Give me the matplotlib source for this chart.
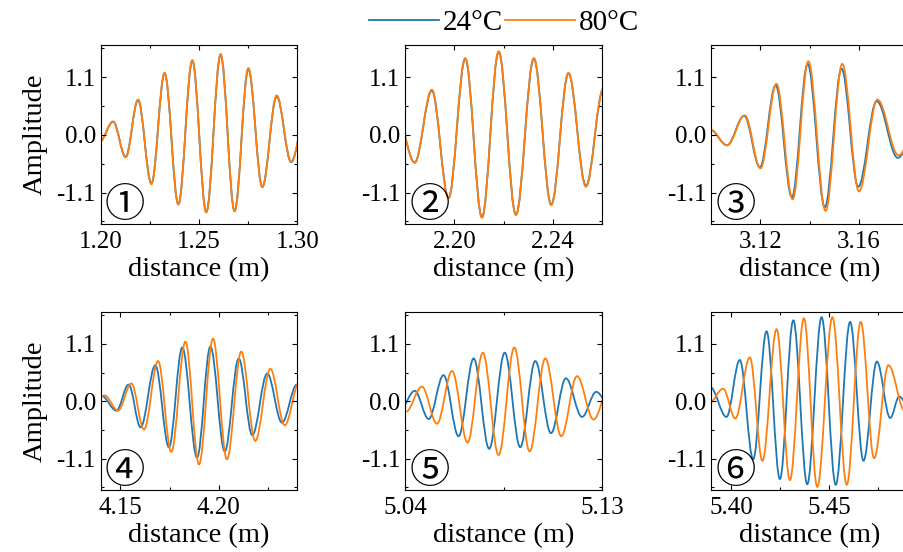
import matplotlib
matplotlib.use("Agg")
import matplotlib.pyplot as plt
from matplotlib.path import Path
from matplotlib.patches import PathPatch
from matplotlib.lines import Line2D
from matplotlib.ticker import MultipleLocator, FormatStrFormatter

plt.rcParams["font.family"] = ["Liberation Serif", "DejaVu Serif"]
plt.rcParams["mathtext.fontset"] = "stix"

# Wave extrema (distance in m, amplitude), per panel.
P1_X = [1.1995, 1.2063, 1.2127, 1.2190, 1.2258, 1.2325, 1.2395, 1.2466,
        1.2537, 1.2610, 1.2681, 1.2751, 1.2822, 1.2895, 1.2969, 1.3040]
P1_Y24 = [-0.13, 0.25, -0.42, 0.66, -0.93, 1.17, -1.32, 1.41,
          -1.47, 1.52, -1.45, 1.25, -0.99, 0.73, -0.52, 0.33]
P1_Y80 = [-0.13, 0.25, -0.43, 0.67, -0.94, 1.18, -1.33, 1.42,
          -1.48, 1.54, -1.46, 1.27, -1.00, 0.75, -0.51, 0.35]

P2_X = [2.1770, 2.1838, 2.1908, 2.1976, 2.2044, 2.2112, 2.2180,
        2.2250, 2.2323, 2.2394, 2.2464, 2.2535, 2.2606]
P2_Y24 = [0.30, -0.53, 0.84, -1.20, 1.45, -1.57, 1.58,
          -1.52, 1.45, -1.33, 1.17, -0.97, 0.87]
P2_Y80 = [0.30, -0.53, 0.86, -1.21, 1.46, -1.58, 1.59,
          -1.53, 1.46, -1.34, 1.18, -0.99, 0.88]

P3_X24 = [3.0995, 3.1064, 3.1134, 3.1198, 3.1262, 3.1328, 3.1392,
          3.1462, 3.1530, 3.1598, 3.1673, 3.1759, 3.1837]
P3_Y24 = [0.10, -0.20, 0.36, -0.62, 0.94, -1.19, 1.35,
          -1.38, 1.26, -0.99, 0.64, -0.44, 0.18]
P3_X80 = [3.0995, 3.1065, 3.1136, 3.1200, 3.1265, 3.1331, 3.1395,
          3.1465, 3.1533, 3.1601, 3.1676, 3.1762, 3.1840]
P3_Y80 = [0.10, -0.20, 0.37, -0.64, 0.97, -1.23, 1.40,
          -1.45, 1.35, -1.08, 0.67, -0.39, 0.20]

P4_X24 = [4.1340, 4.1405, 4.1480, 4.1542, 4.1603, 4.1678, 4.1747, 4.1815,
          4.1890, 4.1958, 4.2031, 4.2102, 4.2171, 4.2247, 4.2322, 4.2398]
P4_Y24 = [0.00, 0.10, -0.18, 0.32, -0.50, 0.69, -0.88, 1.03,
          -1.08, 1.05, -0.96, 0.82, -0.65, 0.53, -0.41, 0.32]
P4_X80 = [4.1350, 4.1420, 4.1488, 4.1556, 4.1620, 4.1692, 4.1759, 4.1831,
          4.1900, 4.1971, 4.2042, 4.2115, 4.2186, 4.2263, 4.2336, 4.2410]
P4_Y80 = [0.02, 0.11, -0.18, 0.34, -0.54, 0.77, -0.97, 1.14,
          -1.21, 1.20, -1.11, 0.95, -0.76, 0.62, -0.46, 0.36]

P5_X24 = [5.0378, 5.0443, 5.0507, 5.0575, 5.0644, 5.0713, 5.0784, 5.0855,
          5.0926, 5.0995, 5.1067, 5.1135, 5.1209, 5.1274, 5.1340]
P5_Y24 = [-0.15, 0.20, -0.34, 0.50, -0.67, 0.82, -0.91, 0.93,
          -0.88, 0.77, -0.61, 0.44, -0.30, 0.18, -0.12]
P5_X80 = [5.0340, 5.0403, 5.0476, 5.0545, 5.0614, 5.0685, 5.0755, 5.0827,
          5.0899, 5.0969, 5.1041, 5.1114, 5.1186, 5.1262, 5.1332]
P5_Y80 = [0.12, -0.20, 0.28, -0.43, 0.58, -0.79, 0.93, -1.03,
          1.03, -0.96, 0.82, -0.67, 0.48, -0.35, 0.25]

P6_X24 = [5.3895, 5.3977, 5.4045, 5.4113, 5.4181, 5.4249, 5.4317, 5.4388,
          5.4461, 5.4533, 5.4606, 5.4674, 5.4742, 5.4810, 5.4856, 5.4905]
P6_Y24 = [0.27, -0.30, 0.79, -1.11, 1.34, -1.49, 1.55, -1.59,
          1.61, -1.60, 1.52, -1.14, 0.76, -0.32, 0.09, -0.10]
P6_X80 = [5.3890, 5.3960, 5.4022, 5.4096, 5.4160, 5.4232, 5.4300, 5.4371,
          5.4439, 5.4516, 5.4589, 5.4660, 5.4728, 5.4801, 5.4885, 5.4950]
P6_Y80 = [-0.03, 0.24, -0.33, 0.84, -1.14, 1.38, -1.51, 1.59,
          -1.64, 1.61, -1.60, 1.52, -1.09, 0.69, -0.19, 0.10]

XLIMS = [(1.20, 1.30), (2.18, 2.26), (3.10, 3.18),
         (4.14, 4.24), (5.04, 5.13), (5.39, 5.49)]
XMAJOR = [0.05, 0.04, 0.04, 0.05, 0.09, 0.05]
LABELS = ["①", "②", "③", "④", "⑤", "⑥"]
SERIES = [
    ((P1_X, P1_Y24), (P1_X, P1_Y80)),
    ((P2_X, P2_Y24), (P2_X, P2_Y80)),
    ((P3_X24, P3_Y24), (P3_X80, P3_Y80)),
    ((P4_X24, P4_Y24), (P4_X80, P4_Y80)),
    ((P5_X24, P5_Y24), (P5_X80, P5_Y80)),
    ((P6_X24, P6_Y24), (P6_X80, P6_Y80)),
]
C24, C80 = "#1f77b4", "#ff7f0e"


def wave(ax, xs, ys, color, k=0.36):
    # smooth half-waves between successive extrema (flat tangents at peaks)
    verts = [(xs[0], ys[0])]
    codes = [Path.MOVETO]
    for i in range(len(xs) - 1):
        dx = xs[i + 1] - xs[i]
        verts += [(xs[i] + k * dx, ys[i]), (xs[i + 1] - k * dx, ys[i + 1]),
                  (xs[i + 1], ys[i + 1])]
        codes += [Path.CURVE4] * 3
    ax.add_patch(PathPatch(Path(verts, codes), fill=False, ec=color, lw=1.3))


fig = plt.figure(figsize=(9.04, 5.52), dpi=100)
W, H = 904, 552
lefts = [100.7, 405.3, 711.3]
rows = [(45, 224), (312, 490)]

for i in range(6):
    r, c = divmod(i, 3)
    top, bot = rows[r]
    ax = fig.add_axes([lefts[c] / W, 1 - bot / H, 196.6 / W, (bot - top) / H])
    (x24, y24), (x80, y80) = SERIES[i]
    wave(ax, x24, y24, C24)
    wave(ax, x80, y80, C80)
    ax.set_xlim(*XLIMS[i])
    ax.set_ylim(-1.7, 1.71)
    ax.xaxis.set_major_locator(MultipleLocator(XMAJOR[i]))
    ax.xaxis.set_minor_locator(MultipleLocator(XMAJOR[i] / 2))
    ax.xaxis.set_major_formatter(FormatStrFormatter("%.2f"))
    ax.yaxis.set_major_locator(MultipleLocator(1.1))
    ax.yaxis.set_minor_locator(MultipleLocator(0.55))
    ax.yaxis.set_major_formatter(FormatStrFormatter("%.1f"))
    ax.tick_params(which="both", direction="in", top=True, right=True,
                   labelsize=18, width=0.8)
    ax.tick_params(which="major", length=3.5)
    ax.tick_params(which="minor", length=2)
    ax.tick_params(axis="x", pad=5)
    ax.set_xlabel("distance (m)", fontsize=20.5, labelpad=3)
    if c == 0:
        ax.set_ylabel("Amplitude", fontsize=20.5, labelpad=6)
    ax.text(0.122, 0.105, LABELS[i], transform=ax.transAxes, fontsize=29,
            ha="center", va="center",
            family=["Noto Sans CJK JP", "DejaVu Sans"])

handles = [Line2D([], [], color=C24, lw=1.3), Line2D([], [], color=C80, lw=1.3)]
fig.legend(handles, ["24°C", "80°C"], loc="center",
           bbox_to_anchor=(504 / W, 1 - 23 / H), ncol=2, frameon=False,
           fontsize=21, handlelength=2.4, handletextpad=0.12,
           columnspacing=0.1, borderpad=0)

fig.savefig("out.png", dpi=100)
